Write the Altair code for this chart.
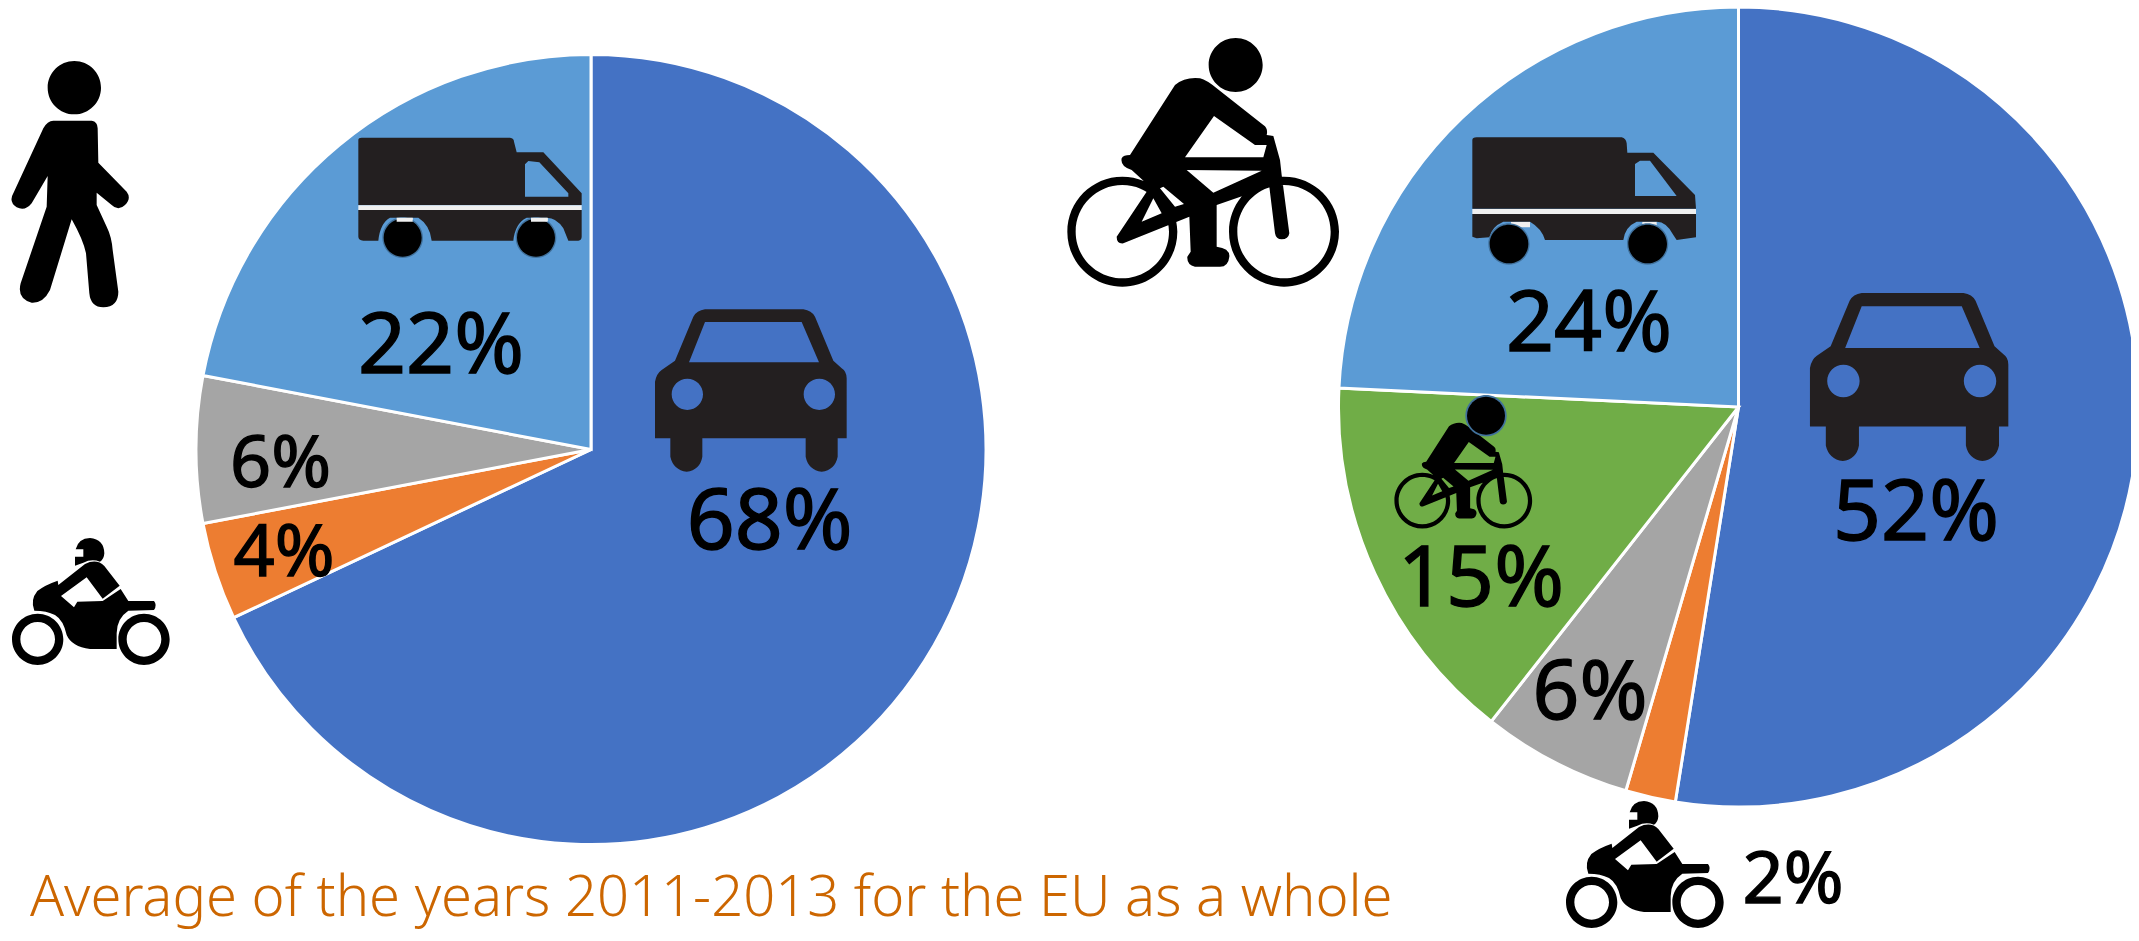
import altair as alt
import pandas as pd

# ---------- data ----------
categories_left = ["Car", "Motorcycle", "Moped", "Van"]
values_left = [68, 4, 6, 22]
categories_right = ["Car", "Motorcycle", "Moped", "Bicycle", "Van"]
values_right = [52, 2, 6, 15, 24]
domain = ["Car", "Motorcycle", "Moped", "Bicycle", "Van"]
palette = ["#4472c4", "#ed7d31", "#a5a5a5", "#70ad47", "#5b9bd5"]

labels = ["22%", "68%", "6%", "4%", "24%", "52%", "15%", "6%", "2%"]
caption = "Average of the years 2011-2013 for the EU as a whole"

W, H = 2123, 925
OFF = 8  # page margin
DARK = "#231f20"
HALO = "#41719c"
PALE = "#f0f0f0"


def circle(cx, cy, r, hole=False):
    s = 0 if hole else 1
    return f"M{cx-r} {cy}a{r} {r} 0 1 {s} {2*r} 0a{r} {r} 0 1 {s} {-2*r} 0Z"


WALKER = circle(223, 113, 80) + (
    "M160 212L275 212Q293 215 293 235L295 338L380 425Q395 445 375 465Q355 485 335 465"
    "L290 428L290 465L320 530Q335 560 338 600L355 725Q355 770 310 772Q272 772 268 730"
    "L258 610Q250 570 215 508L150 720Q130 760 95 758Q50 745 62 700L140 470L143 378"
    "L95 460Q75 485 50 472Q25 455 40 430L130 235Q142 212 160 212Z"
)

MOTO = (
    circle(113, 358, 77) + circle(113, 358, 52, True)
    + circle(432, 358, 77) + circle(432, 358, 52, True)
    + "M225 137L225 110L250 110L250 88L227 88Q235 55 270 54Q312 58 313 100Q312 118 300 125Q275 115 250 128Z"
    + "M103 272Q90 240 112 213Q135 195 173 182L175 195L255 132Q290 115 313 138L359 197L308 236"
      "L260 172L183 228L222 262L232 245L308 243L362 207L385 243L462 243Q472 255 462 270L385 272"
      "Q350 295 350 340L350 387L270 387Q215 380 200 345Q190 300 165 285Q140 272 103 272Z"
)

TRUCK_L = (
    "M25 45Q25 38 35 38L480 38Q492 40 492 50L500 82L580 82L695 205L695 240L25 240Z"
    "M525 118L525 215L655 215L655 205L568 112L535 108Z"
    "M25 255L695 255L695 335Q695 345 685 347L655 347L640 310Q620 278 590 278L530 278"
    "Q495 295 490 347L245 347Q240 300 205 278L120 278Q90 295 85 347L40 347Q25 345 25 335Z"
)
WHEELS_L = circle(158, 338, 57) + circle(558, 338, 57)
HALOS_L = circle(158, 338, 61) + circle(558, 338, 61)
MARKS_L = "M25 241H695V255H25ZM140 278H188V302H140ZM543 278H593V302H543Z"

TRUCK_R = (
    "M277 60Q277 52 290 52L725 52Q738 55 740 70L742 98L820 98L945 225L948 266L277 266Z"
    "M765 132L765 228L890 228L810 122L780 122Z"
    "M277 282L948 282L948 352L890 360L880 345Q860 305 830 305L770 305Q735 320 730 360"
    "L495 360Q485 325 450 305L370 305Q335 320 328 352L290 355L277 350Z"
)
WHEELS_R = circle(387, 372, 58) + circle(803, 372, 58)
HALOS_R = circle(387, 372, 62) + circle(803, 372, 62)
MARKS_R = "M277 267H948V282H277ZM393 305H450V322H393ZM787 305H830V318H787Z"

CAR = (
    "M30 415L30 245Q35 220 50 210L90 182L145 50Q155 32 180 28L475 28Q500 32 510 50L565 182"
    "L590 205Q605 215 605 235L605 415L578 415L578 470Q570 510 530 515Q490 510 482 470L482 415"
    "L172 415L172 470Q165 510 125 515Q85 510 76 470L76 415Z"
    "M180 66L132 187L522 187L470 66Z"
    + circle(127, 283, 47, True) + circle(523, 283, 47, True)
)

BIKE_BODY = (
    circle(187, 605, 165) + circle(187, 605, 140, True)
    + circle(672, 605, 165) + circle(672, 605, 140, True)
    + "M345 165Q375 140 420 145Q440 150 470 175L610 285Q625 295 620 315L640 318L660 390L665 435"
      "L688 610Q685 628 665 628Q648 628 645 610L628 470L470 525L470 650Q510 655 508 680Q505 710 480 710"
      "L405 710Q380 705 382 680L392 665L388 560L190 640Q170 642 170 620L270 470L215 420Q180 410 185 385"
      "Q190 375 210 375Z"
      "M462 258L375 382L610 382L620 345L585 345Z"
      "M380 420L460 488L605 422Z"
      "M280 505L245 575L305 550Z"
      "M300 475L345 530L372 522L310 470Z"
)
BIKE = circle(527, 105, 81) + BIKE_BODY
SMALL_HEAD = circle(0, 0, 57)
SMALL_HALO = circle(0, 0, 62)


def pie(cats, vals, cx, cy, r):
    df = pd.DataFrame({"cat": cats, "value": vals, "order": list(range(len(cats)))})
    return alt.Chart(df).mark_arc(
        outerRadius=r, stroke="white", strokeWidth=3
    ).encode(
        theta=alt.Theta("value:Q", stack=True),
        order=alt.Order("order:Q"),
        color=alt.Color("cat:N", scale=alt.Scale(domain=domain, range=palette), legend=None),
        x=alt.value(cx - OFF),
        y=alt.value(cy - OFF),
    )


def icon(path, x, y, scale=1.0, color="black"):
    # path units are thirds of a pixel; a custom symbol is scaled by sqrt(size)/2
    size = 4 * (scale / 3) ** 2
    return alt.Chart(pd.DataFrame({"i": [0]})).mark_point(
        shape=path, filled=True, fill=color, stroke=None, opacity=1, size=size
    ).encode(x=alt.value(x - OFF), y=alt.value(y - OFF))


def text(t, cx, base, size, color="black", weight=400, align="center", sw=1.4):
    kw = {"stroke": color, "strokeWidth": sw} if sw else {}
    return alt.Chart(pd.DataFrame({"t": [t]})).mark_text(
        font="Noto Sans", fontSize=size, fontWeight=weight, color=color,
        align=align, baseline="alphabetic", **kw,
    ).encode(text="t:N", x=alt.value(cx - OFF), y=alt.value(base - OFF))


layers = [
    pie(categories_left, values_left, 591, 449.5, 395),
    pie(categories_right, values_right, 1738.5, 407, 400),
    icon(WALKER, 0, 50),
    icon(MOTO, 0, 520),
    icon(MARKS_L, 350, 125, color=PALE),
    icon(TRUCK_L, 350, 125, color=DARK),
    icon(HALOS_L, 350, 125, color=HALO),
    icon(WHEELS_L, 350, 125),
    icon("M140 278H188V290H140ZM543 278H593V290H543Z", 350, 125, color=PALE),
    icon(CAR, 645, 300, color=DARK),
    icon(BIKE, 1060, 30),
    icon(BIKE_BODY, 1390.7, 398.4, 0.507),
    icon(SMALL_HALO, 1486, 415.7, color=HALO),
    icon(SMALL_HEAD, 1486, 415.7),
    icon(MOTO, 1554, 783),
    icon(MARKS_R, 1380, 120, color=PALE),
    icon(TRUCK_R, 1380, 120, color=DARK),
    icon(HALOS_R, 1380, 120, color=HALO),
    icon(WHEELS_R, 1380, 120),
    icon(CAR, 1799.6, 283.4, 1.035, color=DARK),
]
sizes = [84, 84, 72, 72, 84, 84, 84, 82, 72]
xs = [441, 769.6, 280.5, 284, 1589, 1916, 1481, 1590, 1793]
bases = [373, 549, 487, 576, 351, 540, 606, 719, 903]
for t, x, b, s in zip(labels, xs, bases, sizes):
    layers.append(text(t, x, b, s))
layers.append(text(caption, 30, 916, 56.1, color="#cc6600", weight=300, align="left", sw=0))

chart = alt.layer(*layers).resolve_scale(theta="independent").properties(
    width=W, height=H, padding=0, background="white",
    autosize=alt.AutoSizeParams(type="none", contains="content"),
).configure_view(stroke=None)

chart.save("out.html", embed_options={"renderer": "svg", "actions": False})
